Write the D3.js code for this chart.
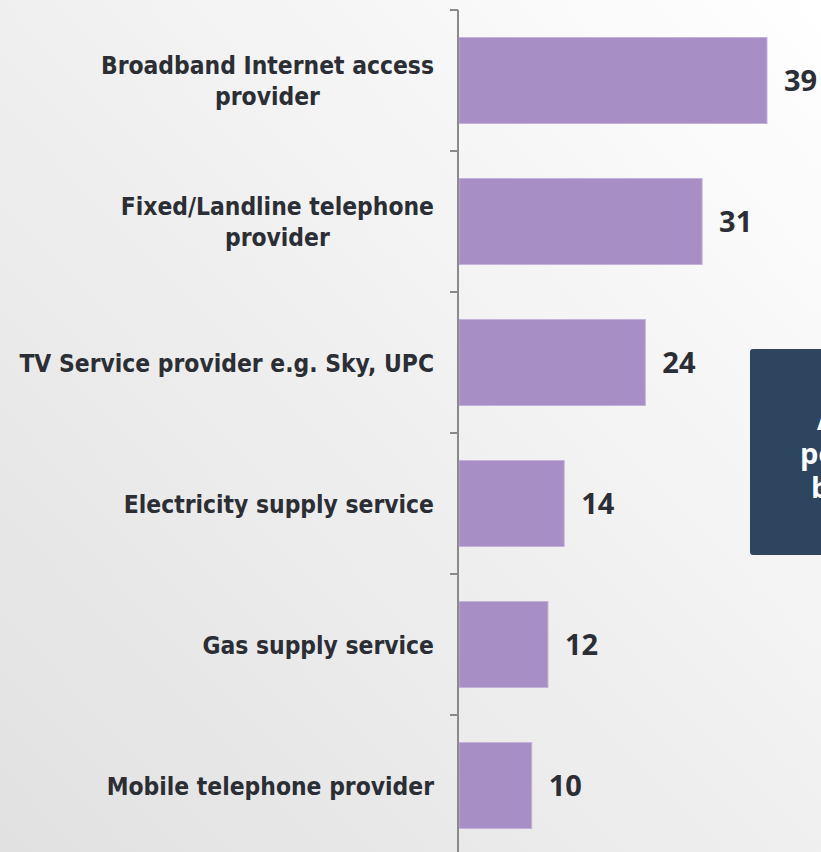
<!DOCTYPE html>
<html>
<head>
<meta charset="utf-8">
<script src="https://cdn.jsdelivr.net/npm/d3@7"></script>
<style>
  html, body { margin: 0; padding: 0; overflow: hidden; }
  svg { display: block; }
</style>
</head>
<body>
<script>
// Services and the share (%) reported for each
const categories = [
  "Broadband Internet access provider",
  "Fixed/Landline telephone provider",
  "TV Service provider e.g. Sky, UPC",
  "Electricity supply service",
  "Gas supply service",
  "Mobile telephone provider"
];
const labelLines = [
  ["Broadband Internet access", "provider"],
  ["Fixed/Landline telephone", "provider"],
  ["TV Service provider e.g. Sky, UPC"],
  ["Electricity supply service"],
  ["Gas supply service"],
  ["Mobile telephone provider"]
];
const values = [39, 31, 24, 14, 12, 10];
const calloutLines = ["Attractive", "potential for", "bundling"];

const W = 821, H = 852;
const svg = d3.select("body").append("svg").attr("width", W).attr("height", H);

// soft diagonal background
const defs = svg.append("defs");
const grad = defs.append("linearGradient").attr("id", "bg")
  .attr("x1", "0").attr("y1", "1").attr("x2", "1").attr("y2", "0");
grad.append("stop").attr("offset", "0").attr("stop-color", "#e1e1e1");
grad.append("stop").attr("offset", "0.55").attr("stop-color", "#f1f1f1");
grad.append("stop").attr("offset", "1").attr("stop-color", "#ffffff");
svg.append("rect").attr("width", W).attr("height", H).attr("fill", "url(#bg)");

const axisX = 458;
const y = d3.scaleBand().domain(categories).range([10, 856])
  .paddingInner(0.39).paddingOuter(0.195);
const x = d3.scaleLinear().domain([0, 39]).range([450.6, 767]);

const data = categories.map((c, i) => ({ cat: c, value: values[i], lines: labelLines[i] }));

// bars
svg.append("g").selectAll("rect").data(data).join("rect")
  .attr("x", axisX + 1)
  .attr("y", d => y(d.cat))
  .attr("width", d => x(d.value) - axisX - 1)
  .attr("height", y.bandwidth())
  .attr("fill", "#a78fc5")
  .attr("stroke", "#c2b2da")
  .attr("stroke-width", 1);

// axis line with ticks at band boundaries
const step = y.step();
const bounds = categories.map(c => y(c) - step * y.paddingInner() / 2);
const axis = svg.append("g").attr("stroke", "#8a8a8a").attr("stroke-width", 2);
axis.append("line").attr("x1", axisX).attr("x2", axisX).attr("y1", bounds[0]).attr("y2", H);
axis.selectAll("line.tick").data(bounds).join("line").attr("class", "tick")
  .attr("x1", axisX - 8).attr("x2", axisX).attr("y1", d => d).attr("y2", d => d);

// category labels: each block right-aligned, its lines centred on one another
const labelG = svg.append("g")
  .attr("font-family", "'DejaVu Sans Condensed', 'DejaVu Sans', sans-serif")
  .attr("font-stretch", "condensed")
  .attr("font-weight", "bold")
  .attr("font-size", 24.4)
  .attr("fill", "#2b2e34")
  .attr("text-anchor", "middle");
const lineH = 31;
const labelRight = 434;
data.forEach(d => {
  const cy = y(d.cat) + y.bandwidth() / 2;
  const n = d.lines.length;
  const block = labelG.append("g");
  const texts = d.lines.map((t, j) => block.append("text")
    .attr("y", cy + 9 + (j - (n - 1) / 2) * lineH)
    .text(t));
  const maxW = d3.max(texts, t => t.node().getComputedTextLength());
  texts.forEach(t => t.attr("x", labelRight - maxW / 2));
});

// value labels
svg.append("g")
  .attr("font-family", "'Open Sans', sans-serif")
  .attr("font-weight", "bold")
  .attr("font-size", 29)
  .attr("fill", "#2b2e34")
  .selectAll("text").data(data).join("text")
  .attr("x", d => x(d.value) + 17)
  .attr("y", d => y(d.cat) + y.bandwidth() / 2 + 10.5)
  .text(d => d.value);

// callout box
const box = svg.append("g");
box.append("rect").attr("x", 750).attr("y", 349).attr("width", 160).attr("height", 206)
  .attr("rx", 3).attr("fill", "#2e4560");
const calloutX = [817, 800, 811];
box.append("g")
  .attr("font-family", "'Open Sans', sans-serif")
  .attr("font-weight", "bold")
  .attr("font-size", 29)
  .attr("fill", "#ffffff")
  .selectAll("text").data(calloutLines).join("text")
  .attr("x", (d, i) => calloutX[i])
  .attr("y", (d, i) => 430 + i * 34)
  .text(d => d);
</script>
</body>
</html>
